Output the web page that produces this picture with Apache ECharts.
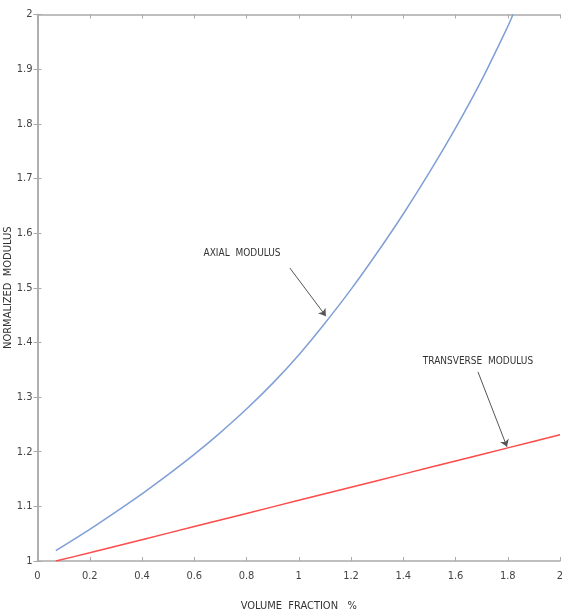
<!DOCTYPE html>
<html>
<head>
<meta charset="utf-8">
<script src="https://cdn.jsdelivr.net/npm/echarts@6/dist/echarts.min.js"></script>
<style>html,body{margin:0;padding:0;background:#fff}#c{width:562px;height:612px}</style>
</head>
<body>
<div id="c"></div>
<script>
var axialX = [0.07, 0.2, 0.3, 0.4, 0.5, 0.6, 0.7, 0.8, 0.9, 1.0, 1.1, 1.2, 1.3, 1.4, 1.5, 1.6, 1.7, 1.8, 1.82];
var axialY = [1.019, 1.058, 1.09, 1.123, 1.158, 1.195, 1.235, 1.278, 1.325, 1.377, 1.435, 1.497, 1.564, 1.635, 1.711, 1.792, 1.88, 1.978, 2.0];
var transX = [0.07, 0.2, 0.4, 0.6, 0.8, 1.0, 1.2, 1.4, 1.6, 1.8, 2.0];
var transY = [1.0, 1.015, 1.039, 1.063, 1.087, 1.111, 1.135, 1.159, 1.183, 1.207, 1.231];
var xTicks = ['0','0.2','0.4','0.6','0.8','1','1.2','1.4','1.6','1.8','2'];
var yTicks = ['1','1.1','1.2','1.3','1.4','1.5','1.6','1.7','1.8','1.9','2'];
var axialLabel = {text: 'AXIAL  MODULUS', at: [0.783, 1.562], arrowFrom: [0.966, 1.536], arrowTo: [1.104, 1.448]};
var transLabel = {text: 'TRANSVERSE  MODULUS', at: [1.686, 1.366], arrowFrom: [1.686, 1.346], arrowTo: [1.797, 1.209]};

function pairs(xs, ys) { return xs.map(function (x, i) { return [x, ys[i]]; }); }
var FONT = "'DejaVu Sans Condensed', 'Liberation Sans Narrow', 'Liberation Sans', Arial, sans-serif";
var axisLine = {show: true, lineStyle: {color: '#aaaaaa', width: 1.5}};
var axisTick = {show: true, inside: true, length: 4, lineStyle: {color: '#aaaaaa', width: 1}};

function ann(a) {
  return {
    silent: true,
    symbol: ['none', 'arrow'],
    symbolSize: 7,
    lineStyle: {color: '#555', width: 1, type: 'solid'},
    label: {show: false},
    data: [[{coord: a.arrowFrom}, {coord: a.arrowTo}]]
  };
}
function annText(a) {
  return {
    silent: true,
    symbol: 'circle', symbolSize: 0,
    label: {show: true, position: 'inside', formatter: a.text, color: '#333', fontSize: 10, fontFamily: FONT},
    data: [{coord: a.at}]
  };
}

var chart = echarts.init(document.getElementById('c'), null, {renderer: 'canvas'});
chart.setOption({
  backgroundColor: '#fff',
  animation: false,
  grid: {left: 37.5, right: 2, top: 14.5, bottom: 51, containLabel: false, outerBoundsMode: 'none'},
  xAxis: [{
    type: 'value', min: 0, max: 2, interval: 0.2, position: 'bottom',
    axisLine: axisLine, axisTick: axisTick, splitLine: {show: false},
    axisLabel: {color: '#444', fontSize: 11, fontFamily: FONT, margin: 10,
      formatter: function (v) { return xTicks[Math.round(v / 0.2)]; }},
    name: 'VOLUME  FRACTION   %', nameLocation: 'middle', nameGap: 40, nameMoveOverlap: false,
    nameTextStyle: {color: '#333', fontSize: 11, fontFamily: FONT}
  }, {
    type: 'value', min: 0, max: 2, interval: 0.2, position: 'top',
    axisLine: axisLine, axisTick: axisTick, axisLabel: {show: false}, splitLine: {show: false}
  }],
  yAxis: [{
    type: 'value', min: 1, max: 2, interval: 0.1, position: 'left',
    axisLine: axisLine, axisTick: axisTick, splitLine: {show: false},
    axisLabel: {color: '#444', fontSize: 11, fontFamily: FONT, margin: 5,
      formatter: function (v) { return yTicks[Math.round((v - 1) / 0.1)]; }},
    name: 'NORMALIZED  MODULUS', nameLocation: 'middle', nameGap: 24, nameRotate: 90, nameMoveOverlap: false,
    nameTextStyle: {color: '#333', fontSize: 11, fontFamily: FONT}
  }, {
    type: 'value', min: 1, max: 2, interval: 0.1, position: 'right',
    axisLine: axisLine, axisTick: axisTick, axisLabel: {show: false}, splitLine: {show: false}
  }],
  series: [{
    type: 'line', name: 'Axial', data: pairs(axialX, axialY), smooth: 0.3,
    showSymbol: false, clip: true,
    lineStyle: {color: '#7f9fd6', width: 1.5},
    markLine: ann(axialLabel), markPoint: annText(axialLabel)
  }, {
    type: 'line', name: 'Transverse', data: pairs(transX, transY), smooth: 0.3,
    showSymbol: false, clip: true,
    lineStyle: {color: '#ff4a4a', width: 1.5},
    markLine: ann(transLabel), markPoint: annText(transLabel)
  }]
});
</script>
</body>
</html>
